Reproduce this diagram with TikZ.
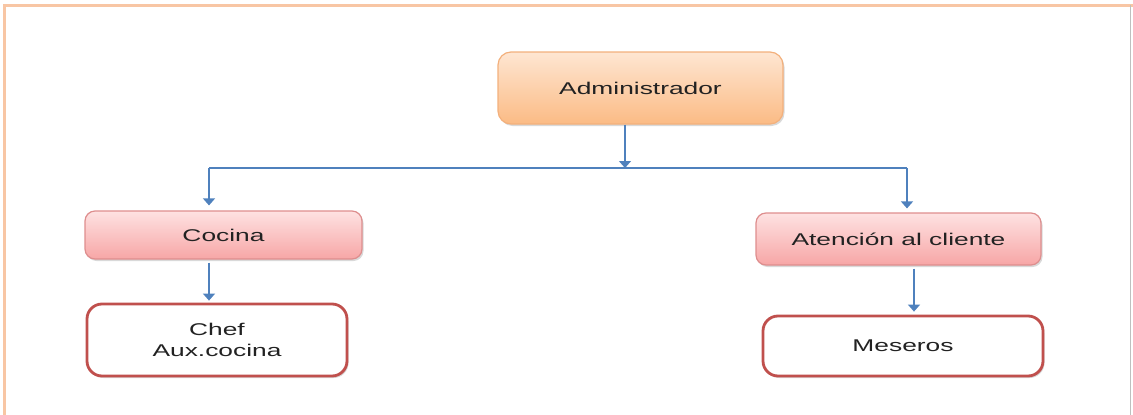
\documentclass[tikz,border=0pt]{standalone}
\usepackage{fontspec}
\setmainfont[FakeStretch=1.55]{Liberation Sans}
\usetikzlibrary{arrows.meta,shadows}
\definecolor{frameline}{HTML}{F8C6A4}
\definecolor{orangetop}{HTML}{FEE6D2}
\definecolor{orangebot}{HTML}{FBBB85}
\definecolor{orangeedge}{HTML}{F3B07C}
\definecolor{pinktop}{HTML}{FEE2E2}
\definecolor{pinkbot}{HTML}{F7A6A6}
\definecolor{pinkedge}{HTML}{DE8E8E}
\definecolor{rededge}{HTML}{C0504D}
\definecolor{linkblue}{HTML}{4F81BD}
\definecolor{txt}{HTML}{222222}
\tikzset{
  base/.style={rounded corners=13pt, align=center, text=txt,
    font=\fontsize{17}{21}\selectfont, inner sep=0pt,
    drop shadow={shadow xshift=1.5pt, shadow yshift=-2pt, opacity=0.25, fill=black!60}},
  headbox/.style={base, draw=orangeedge, line width=1.2pt,
    top color=orangetop, bottom color=orangebot},
  areabox/.style={base, rounded corners=10pt, draw=pinkedge, line width=1.2pt,
    top color=pinktop, bottom color=pinkbot},
  staffbox/.style={base, rounded corners=15pt, draw=rededge, line width=2.8pt, fill=white},
  link/.style={draw=linkblue, line width=1.3pt},
  arr/.style={link, -{Triangle[width=12pt,length=7pt]}}
}
\begin{document}
\begin{tikzpicture}[x=1pt,y=-1pt]
  \useasboundingbox (0,0) rectangle (1133,415);
  % page frame
  \draw[frameline, line width=3pt] (4,415) -- (4,5) -- (1133,5);
  \draw[black!25, line width=0.6pt] (1130.5,5) -- (1130.5,415);

  % boxes
  \node[headbox, minimum width=285pt, minimum height=72pt] (admin) at (640.5,88) {Administrador};
  \node[areabox, minimum width=277pt, minimum height=48pt] (cocina) at (223.5,235) {Cocina};
  \node[areabox, minimum width=285pt, minimum height=52pt] (atencion) at (898.5,239) {Atención al cliente};
  \node[staffbox, minimum width=260pt, minimum height=72pt] (chef) at (217,340) {Chef\\Aux.cocina};
  \node[staffbox, minimum width=280pt, minimum height=60pt] (meseros) at (903,346) {Meseros};

  % connector junctions
  \coordinate (bus) at (625,168);
  \coordinate (busL) at (209,168);
  \coordinate (busR) at (907,168);
  \coordinate (dropR) at (914,0);

  % connectors
  \draw[arr] (admin.south -| bus) -- (bus);
  \draw[link] (busL) -- (busR);
  \draw[arr, shorten >=5pt] (busL) -- (cocina.north -| busL);
  \draw[arr, shorten >=4pt] (busR) -- (atencion.north -| busR);
  \draw[arr, shorten <=3pt, shorten >=2pt] (cocina.south -| busL) -- (chef.north -| busL);
  \draw[arr, shorten <=3pt, shorten >=3pt] (atencion.south -| dropR) -- (meseros.north -| dropR);
\end{tikzpicture}
\end{document}
